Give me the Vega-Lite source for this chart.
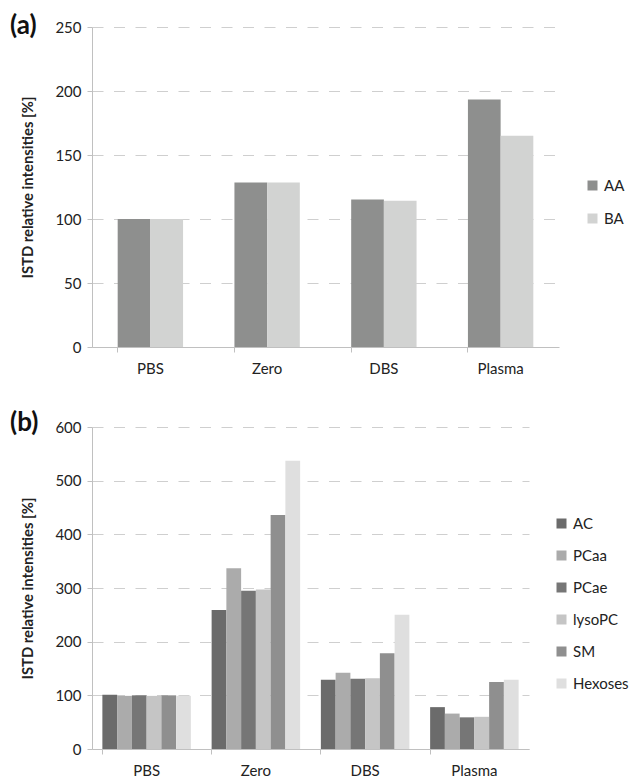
{
  "$schema": "https://vega.github.io/schema/vega-lite/v6.json",
  "padding": {"left": 10, "top": 13, "right": 0, "bottom": 0},
  "background": "white",
  "spacing": 34,
  "resolve": {"scale": {"color": "independent", "xOffset": "independent", "x": "independent", "y": "independent"}, "legend": {"color": "independent"}},
  "config": {
    "view": {"stroke": null},
    "font": "Lato",
    "axis": {
      "labelFont": "Lato",
      "labelFontSize": 15,
      "labelColor": "#222222",
      "domainColor": "#c0c0c0",
      "tickColor": "#c0c0c0",
      "gridColor": "#cfcfcf",
      "gridDash": [11, 10.5],
      "titleFont": "Lato",
      "titleFontSize": 14.8,
      "titleFontWeight": "bold",
      "titleColor": "#222222"
    },
    "legend": {
      "labelFont": "Lato",
      "labelFontSize": 15,
      "labelColor": "#222222",
      "symbolType": "square",
      "symbolSize": 100,
      "symbolStrokeWidth": 0,
      "padding": 0,
      "labelOffset": 4
    },
    "title": {"font": "Lato", "fontSize": 26, "fontWeight": "bold", "color": "#111111"}
  },
  "vconcat": [
    {
      "width": 467,
      "height": 320,
      "title": {"text": "(a)", "anchor": "start", "frame": "group", "dx": -82, "offset": -40, "baseline": "alphabetic"},
      "data": {"values": [
        {"sample": "PBS", "type": "AA", "value": 100},
        {"sample": "PBS", "type": "BA", "value": 100},
        {"sample": "Zero", "type": "AA", "value": 128.5},
        {"sample": "Zero", "type": "BA", "value": 128.5},
        {"sample": "DBS", "type": "AA", "value": 115.2},
        {"sample": "DBS", "type": "BA", "value": 114.2},
        {"sample": "Plasma", "type": "AA", "value": 193.4},
        {"sample": "Plasma", "type": "BA", "value": 165}
      ]},
      "mark": {"type": "bar"},
      "encoding": {
        "x": {"field": "sample", "type": "nominal", "sort": ["PBS", "Zero", "DBS", "Plasma"],
          "scale": {"paddingInner": 0.44, "paddingOuter": 0.22},
          "axis": {"title": null, "labelAngle": 0, "bandPosition": 0, "tickSize": 5, "labelPadding": 9, "grid": false}},
        "xOffset": {"field": "type", "sort": ["AA", "BA"]},
        "y": {"field": "value", "type": "quantitative", "scale": {"domain": [0, 250]},
          "axis": {"values": [0, 50, 100, 150, 200, 250], "title": "ISTD relative intensities [%]", "grid": true, "tickSize": 5, "labelPadding": 6, "titlePadding": 19}},
        "color": {"field": "type", "type": "nominal", "scale": {"domain": ["AA", "BA"], "range": ["#8e8f8e", "#d2d3d2"]},
          "legend": {"title": null, "orient": "none", "legendX": 493, "legendY": 151, "rowPadding": 17}}
      }
    },
    {
      "width": 437,
      "height": 322,
      "title": {"text": "(b)", "anchor": "start", "frame": "group", "dx": -82, "offset": -37, "baseline": "alphabetic"},
      "data": {"values": [
        {"sample": "PBS", "type": "AC", "value": 101},
        {"sample": "PBS", "type": "PCaa", "value": 99},
        {"sample": "PBS", "type": "PCae", "value": 100},
        {"sample": "PBS", "type": "lysoPC", "value": 99},
        {"sample": "PBS", "type": "SM", "value": 100},
        {"sample": "PBS", "type": "Hexoses", "value": 99},
        {"sample": "Zero", "type": "AC", "value": 259},
        {"sample": "Zero", "type": "PCaa", "value": 337},
        {"sample": "Zero", "type": "PCae", "value": 295},
        {"sample": "Zero", "type": "lysoPC", "value": 297},
        {"sample": "Zero", "type": "SM", "value": 436},
        {"sample": "Zero", "type": "Hexoses", "value": 537},
        {"sample": "DBS", "type": "AC", "value": 129},
        {"sample": "DBS", "type": "PCaa", "value": 142},
        {"sample": "DBS", "type": "PCae", "value": 131},
        {"sample": "DBS", "type": "lysoPC", "value": 132},
        {"sample": "DBS", "type": "SM", "value": 178.5},
        {"sample": "DBS", "type": "Hexoses", "value": 250},
        {"sample": "Plasma", "type": "AC", "value": 78},
        {"sample": "Plasma", "type": "PCaa", "value": 66},
        {"sample": "Plasma", "type": "PCae", "value": 59},
        {"sample": "Plasma", "type": "lysoPC", "value": 60},
        {"sample": "Plasma", "type": "SM", "value": 125},
        {"sample": "Plasma", "type": "Hexoses", "value": 129}
      ]},
      "mark": {"type": "bar"},
      "encoding": {
        "x": {"field": "sample", "type": "nominal", "sort": ["PBS", "Zero", "DBS", "Plasma"],
          "scale": {"paddingInner": 0.19, "paddingOuter": 0.095},
          "axis": {"title": null, "labelAngle": 0, "bandPosition": 0, "tickSize": 5, "labelPadding": 9, "grid": false}},
        "xOffset": {"field": "type", "sort": ["AC", "PCaa", "PCae", "lysoPC", "SM", "Hexoses"]},
        "y": {"field": "value", "type": "quantitative", "scale": {"domain": [0, 600]},
          "axis": {"values": [0, 100, 200, 300, 400, 500, 600], "title": "ISTD relative intensities [%]", "grid": true, "tickSize": 5, "labelPadding": 6, "titlePadding": 19}},
        "color": {"field": "type", "type": "nominal", "sort": ["AC", "PCaa", "PCae", "lysoPC", "SM", "Hexoses"],
          "scale": {"domain": ["AC", "PCaa", "PCae", "lysoPC", "SM", "Hexoses"], "range": ["#6b6b6b", "#ababab", "#767676", "#c5c5c5", "#8f8f8f", "#dfdfdf"]},
          "legend": {"title": null, "orient": "none", "legendX": 462, "legendY": 89, "rowPadding": 16}}
      }
    }
  ]
}
